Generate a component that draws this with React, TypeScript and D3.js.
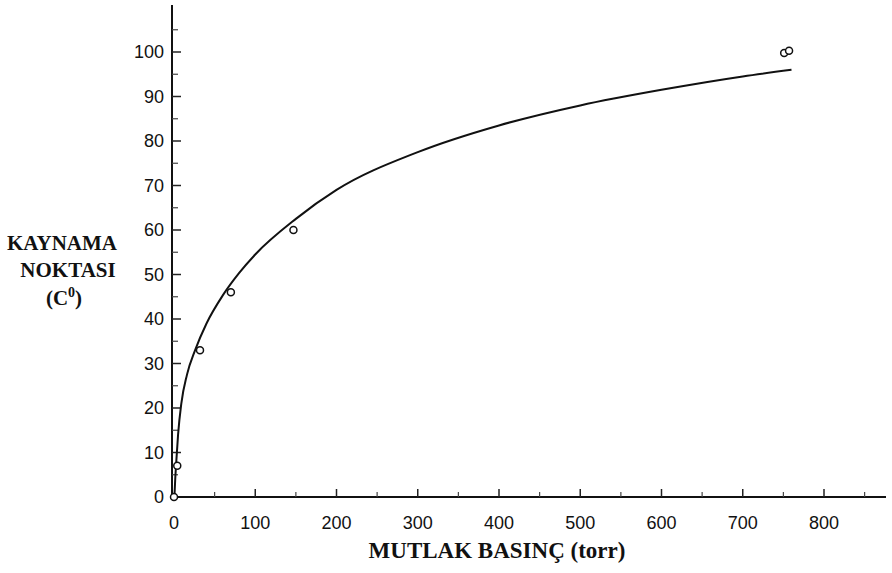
import React, { useEffect, useRef } from "react";
import * as d3 from "d3";

// measured points (torr, °C)
const pointX = [0, 4, 32, 70, 147, 751, 757];
const pointY = [0, 7, 33, 46, 60, 99.8, 100.3];

// fitted curve
const curveX = [0.5, 1.5, 2.5, 5, 9, 16, 26, 40, 60, 80, 100, 150, 200, 300, 400, 500, 600, 700, 760];
const curveY = [0, 4, 7, 14, 21, 27.5, 33, 39, 45.3, 50.3, 54.5, 62.5, 69, 77.5, 83.5, 88, 91.5, 94.5, 96];

const xTicks = [0, 100, 200, 300, 400, 500, 600, 700, 800];
const yTicks = [0, 10, 20, 30, 40, 50, 60, 70, 80, 90, 100];

const App = () => {
  const ref = useRef<SVGSVGElement>(null);

  useEffect(() => {
    const svg = d3.select(ref.current);
    svg.selectAll("*").remove();

    const x = d3.scaleLinear().domain([0, 800]).range([174, 824]);
    const y = d3.scaleLinear().domain([0, 100]).range([497, 52]);

    const g = svg.append("g");

    // axes lines
    g.append("line")
      .attr("x1", x(0) - 2).attr("x2", 886)
      .attr("y1", y(0)).attr("y2", y(0))
      .attr("stroke", "#111").attr("stroke-width", 2);
    g.append("line")
      .attr("x1", x(0) - 2).attr("x2", x(0) - 2)
      .attr("y1", y(0)).attr("y2", 5)
      .attr("stroke", "#111").attr("stroke-width", 2);

    // x ticks (major every 100, minor every 50), pointing up
    const xMinor = d3.range(50, 900, 100);
    g.selectAll(".xt").data(xTicks.slice(1)).enter().append("line")
      .attr("x1", (d) => x(d)).attr("x2", (d) => x(d))
      .attr("y1", y(0)).attr("y2", y(0) - 8)
      .attr("stroke", "#222").attr("stroke-width", 1.5);
    g.selectAll(".xm").data(xMinor).enter().append("line")
      .attr("x1", (d) => x(d)).attr("x2", (d) => x(d))
      .attr("y1", y(0)).attr("y2", y(0) - 5)
      .attr("stroke", "#444").attr("stroke-width", 1.2);

    g.selectAll(".xl").data(xTicks).enter().append("text")
      .attr("x", (d) => x(d)).attr("y", 529)
      .attr("text-anchor", "middle")
      .attr("font-family", "Liberation Sans, Arial, sans-serif")
      .attr("font-size", 18).attr("fill", "#111")
      .text((d) => d);

    // y ticks, pointing right
    const yMinor = d3.range(5, 110, 10);
    g.selectAll(".yt").data(yTicks.slice(1)).enter().append("line")
      .attr("x1", x(0) - 2).attr("x2", x(0) + 7)
      .attr("y1", (d) => y(d)).attr("y2", (d) => y(d))
      .attr("stroke", "#222").attr("stroke-width", 1.5);
    g.selectAll(".ym").data(yMinor).enter().append("line")
      .attr("x1", x(0) - 2).attr("x2", x(0) + 4)
      .attr("y1", (d) => y(d)).attr("y2", (d) => y(d))
      .attr("stroke", "#444").attr("stroke-width", 1.2);

    g.selectAll(".yl").data(yTicks).enter().append("text")
      .attr("x", 164).attr("y", (d) => y(d) + 6)
      .attr("text-anchor", "end")
      .attr("font-family", "Liberation Sans, Arial, sans-serif")
      .attr("font-size", 18).attr("fill", "#111")
      .text((d) => d);

    // curve
    const pts = curveX.map((v, i) => [v, curveY[i]] as [number, number]);
    const line = d3.line<[number, number]>()
      .x((d) => x(d[0]))
      .y((d) => y(d[1]))
      .curve(d3.curveMonotoneX);
    g.append("path")
      .datum(pts)
      .attr("fill", "none")
      .attr("stroke", "#111")
      .attr("stroke-width", 2)
      .attr("d", line);

    // measured points
    g.selectAll(".pt").data(pointX).enter().append("circle")
      .attr("cx", (d) => x(d))
      .attr("cy", (d, i) => y(pointY[i]))
      .attr("r", 3.5)
      .attr("fill", "white")
      .attr("stroke", "#111")
      .attr("stroke-width", 1.5);

    // axis titles
    const serif = "Liberation Serif, Times New Roman, serif";
    g.append("text")
      .attr("x", 497).attr("y", 558)
      .attr("text-anchor", "middle")
      .attr("font-family", serif).attr("font-weight", "bold")
      .attr("font-size", 23).attr("fill", "#111")
      .text("MUTLAK BASINÇ (torr)");

    const yTitle = g.append("text")
      .attr("text-anchor", "middle")
      .attr("font-family", serif).attr("font-weight", "bold")
      .attr("font-size", 21).attr("fill", "#111");
    yTitle.append("tspan").attr("x", 62).attr("y", 250).text("KAYNAMA");
    yTitle.append("tspan").attr("x", 68).attr("y", 277).text("NOKTASI");
    const t3 = yTitle.append("tspan").attr("x", 64).attr("y", 305);
    t3.append("tspan").text("(C");
    t3.append("tspan").attr("font-size", 14).attr("dy", -8).text("0");
    t3.append("tspan").attr("dy", 8).text(")");
  }, []);

  return (
    <svg
      ref={ref}
      width={892}
      height={573}
      style={{ position: "absolute", left: 0, top: 0, background: "white" }}
    />
  );
};

export default App;
